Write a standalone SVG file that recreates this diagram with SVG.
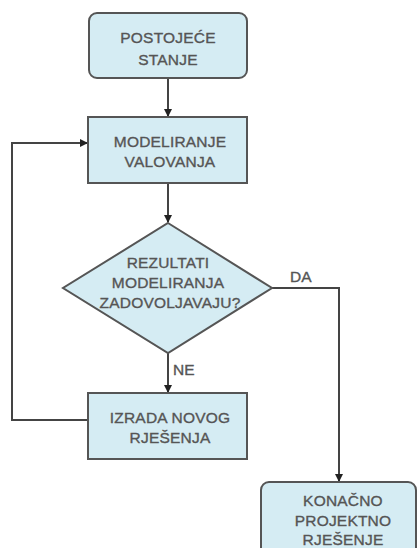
<svg xmlns="http://www.w3.org/2000/svg" width="417" height="548" viewBox="0 0 417 548">
<style>
.n{fill:#d5ecf3;stroke:#555;stroke-width:2}
.t{font-family:"Liberation Sans",Arial,sans-serif;font-size:15.5px;fill:#555;stroke:#555;stroke-width:0.35;text-anchor:middle;letter-spacing:0.2px}
.l{font-family:"Liberation Sans",Arial,sans-serif;font-size:15.5px;fill:#555;stroke:#555;stroke-width:0.35}
.c{fill:none;stroke:#444;stroke-width:2}
</style>
<defs>
<marker id="ah" markerWidth="8" markerHeight="8" refX="7" refY="4" orient="auto" markerUnits="userSpaceOnUse">
<path d="M0,0 L8,4 L0,8 Z" fill="#222"/>
</marker>
</defs>
<g id="connectors">
<path class="c" d="M168,78 V116" marker-end="url(#ah)"/>
<path class="c" d="M168,183 V222" marker-end="url(#ah)"/>
<path class="c" d="M168,353 V392" marker-end="url(#ah)"/>
<path class="c" d="M88,420 H12 V143 H87" marker-end="url(#ah)"/>
<path class="c" d="M272,288 H339 V481" marker-end="url(#ah)"/>
<text class="l" x="290" y="282">DA</text>
<text class="l" x="173" y="375">NE</text>
</g>
<g id="postojece">
<rect class="n" x="89" y="13" width="158" height="65" rx="8"/>
<text class="t" x="168" y="43">POSTOJEĆE</text>
<text class="t" x="168" y="65">STANJE</text>
</g>
<g id="modeliranje">
<rect class="n" x="88" y="117" width="159" height="66"/>
<text class="t" x="170" y="147">MODELIRANJE</text>
<text class="t" x="170" y="167">VALOVANJA</text>
</g>
<g id="odluka">
<polygon class="n" points="168,223 272,288 168,353 63,288"/>
<text class="t" x="168" y="268">REZULTATI</text>
<text class="t" x="168" y="288">MODELIRANJA</text>
<text class="t" x="170" y="308">ZADOVOLJAVAJU?</text>
</g>
<g id="izrada">
<rect class="n" x="88" y="393" width="159" height="66"/>
<text class="t" x="170" y="423">IZRADA NOVOG</text>
<text class="t" x="170" y="443">RJEŠENJA</text>
</g>
<g id="konacno">
<rect class="n" x="261" y="482" width="155" height="80" rx="8"/>
<text class="t" x="343" y="506">KONAČNO</text>
<text class="t" x="343" y="526">PROJEKTNO</text>
<text class="t" x="343" y="545">RJEŠENJE</text>
</g>
</svg>
